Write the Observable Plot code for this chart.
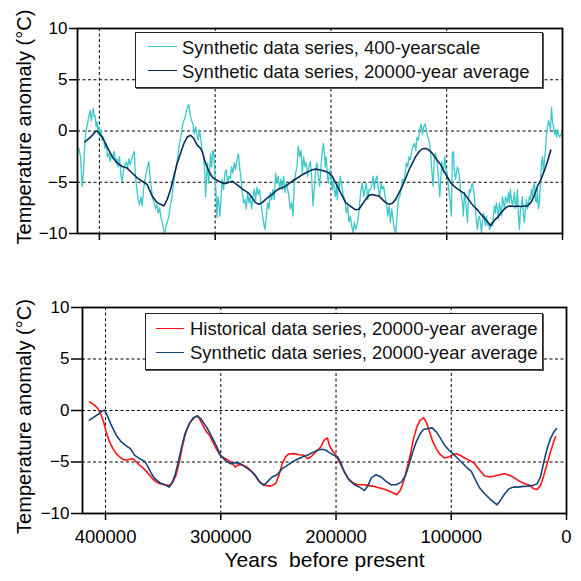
<!DOCTYPE html>
<html>
<head>
<meta charset="utf-8">
<script src="https://cdn.jsdelivr.net/npm/d3@7"></script>
<script src="https://cdn.jsdelivr.net/npm/@observablehq/plot@0.6"></script>
<style>
  html, body { margin: 0; padding: 0; background: white; }
  #wrap { position: relative; width: 581px; height: 581px; font-family: "Liberation Sans", Arial, Helvetica, sans-serif; }
  #wrap svg text { white-space: pre; }
  .legend { position: absolute; background: white; border: 1px solid #222; box-shadow: 1px 1px 0 #555; box-sizing: border-box; }
  .lg-line { position: absolute; height: 0; }
  .lg-text { position: absolute; font-size: 18.5px; line-height: 18.5px; white-space: nowrap; color: #111; }
</style>
</head>
<body>
<div id="wrap"></div>
<script>
// ---------- DATA ----------
// Top panel: synthetic series at 400-year scale [years before present, °C]
const synth400 = [
[418900,-1.9],[417800,-1.7],[416300,-2.5],[414900,-5.4],[413700,-4.1],[412600,-1.2],[411400,0.1],[410300,0.7],
[409100,1.4],[408000,2.0],[407100,1.0],[406200,1.7],[405400,2.2],[404500,1.4],[403600,1.5],[402800,0.4],
[401900,0.9],[401000,-0.3],[400200,0.4],[399300,-0.6],[398500,0.1],[397600,-0.9],[396400,-0.6],[395300,-1.7],
[394100,-1.2],[393000,-2.5],[391800,-2.2],[390700,-3.0],[389500,-2.3],[388400,-2.7],[387200,-2.0],[386100,-3.0],
[384900,-2.7],[383800,-3.5],[382600,-2.5],[381500,-4.3],[380300,-4.9],[379200,-3.8],[378000,-3.3],[376800,-3.0],
[375700,-3.6],[374500,-2.7],[373400,-3.3],[372200,-2.8],[371100,-2.3],[369900,-2.0],[368800,-4.4],[367600,-5.7],
[366500,-6.7],[365300,-7.2],[364200,-6.4],[363000,-7.3],[361900,-5.7],[360700,-4.9],[359600,-4.1],[358400,-3.5],
[357300,-3.0],[356100,-4.7],[355000,-5.7],[353800,-6.7],[352600,-7.0],[351500,-7.6],[350300,-7.2],[349200,-8.0],
[348000,-7.5],[346900,-8.4],[345700,-8.9],[344600,-9.6],[343400,-9.9],[342300,-9.2],[341100,-8.8],[340000,-8.3],
[338800,-7.3],[337700,-6.7],[336500,-5.7],[335400,-4.7],[334200,-3.8],[333100,-3.1],[331900,-2.2],[330800,-1.2],
[329600,-0.6],[328400,0.4],[327300,1.0],[326100,1.2],[325000,2.0],[323800,2.3],[322700,2.6],[321500,1.5],
[320400,1.0],[319200,0.7],[318100,-0.3],[316900,0.4],[315800,-0.3],[314600,-0.9],[313500,0.1],[312600,-0.6],
[311200,-1.9],[310000,-2.5],[309100,-3.8],[308300,-6.4],[307400,-4.4],[306600,-3.1],[305700,-5.1],[304800,-4.1],
[304000,-2.2],[303100,-3.5],[301900,-1.9],[301100,-2.2],[300200,-4.4],[299400,-5.7],[298500,-8.4],[297600,-6.4],
[296800,-7.0],[295900,-8.3],[295000,-6.7],[293900,-4.7],[292700,-5.7],[291600,-4.1],[290400,-3.8],[289300,-5.1],
[288100,-4.4],[287000,-4.7],[285800,-3.5],[284700,-4.1],[283500,-3.1],[282400,-3.8],[281200,-2.8],[280000,-2.2],
[278900,-3.5],[277700,-4.7],[276600,-6.0],[275400,-7.0],[274300,-6.7],[273100,-7.6],[272000,-6.0],[270800,-7.0],
[269700,-6.4],[268500,-7.6],[267400,-6.4],[266200,-5.7],[265100,-6.7],[263900,-5.5],[262800,-6.2],[261600,-5.7],
[260500,-7.0],[259300,-8.0],[258200,-8.9],[257000,-9.6],[255800,-8.3],[254700,-7.0],[253500,-7.6],[252400,-6.0],
[251200,-6.7],[250100,-5.7],[248900,-6.7],[247800,-4.1],[246600,-5.1],[245500,-4.4],[244300,-5.7],[243200,-4.7],
[242000,-5.7],[240900,-4.4],[239700,-6.0],[238600,-5.1],[237400,-5.7],[236300,-6.4],[235100,-7.6],[234000,-7.0],
[232800,-8.3],[231600,-5.1],[230500,-4.1],[229300,-3.5],[228200,-1.5],[227000,-2.5],[225900,-1.9],[224700,-4.1],
[223600,-2.5],[222400,-3.5],[221300,-3.1],[220100,-4.4],[219000,-3.5],[217800,-3.0],[216700,-4.4],[215500,-7.3],
[214400,-5.7],[213200,-3.8],[212100,-3.1],[210900,-4.4],[209800,-5.4],[208600,-3.5],[207400,-1.9],[206600,-1.2],
[205700,-2.2],[204900,-3.5],[204000,-2.5],[203100,-4.4],[202300,-5.1],[201400,-4.1],[200500,-3.8],[199700,-5.1],
[198800,-5.7],[197900,-4.7],[197100,-5.7],[196200,-6.4],[195300,-5.4],[194500,-6.7],[193600,-5.1],[192800,-5.7],
[191900,-4.4],[191000,-5.1],[190200,-5.7],[189000,-6.4],[187900,-6.7],[186700,-8.0],[185600,-7.3],[184400,-8.9],
[183200,-8.3],[182100,-9.2],[180900,-9.9],[179800,-8.9],[178600,-9.6],[177500,-9.2],[176300,-8.3],[175200,-7.0],
[174000,-5.7],[172900,-5.1],[171700,-6.4],[170600,-5.7],[169400,-5.1],[168300,-6.7],[167100,-5.7],[166000,-5.7],
[164800,-5.4],[163700,-4.4],[162500,-5.7],[161400,-4.7],[160200,-4.4],[159000,-5.7],[157900,-6.4],[156700,-5.1],
[155600,-5.7],[154400,-5.4],[153300,-6.4],[152100,-7.0],[151000,-8.3],[149800,-7.3],[148700,-8.9],[147500,-7.6],
[146400,-8.6],[145200,-9.6],[144100,-9.9],[142900,-8.3],[141800,-6.7],[140600,-6.4],[139500,-5.7],[138300,-4.7],
[137100,-5.1],[136000,-4.1],[134800,-3.1],[133700,-3.5],[132500,-2.5],[131400,-2.8],[130200,-1.9],[129100,-1.5],
[127900,-1.2],[126800,-1.9],[125600,-0.6],[124500,-0.9],[123300,0.1],[122200,0.7],[121000,-0.3],[119900,0.4],
[118700,0.7],[117600,0.1],[116400,-0.6],[115300,-0.9],[114100,-1.9],[112900,-3.8],[111800,-5.4],[110600,-2.5],
[109500,-2.2],[108300,-3.1],[107200,-4.4],[106000,-6.4],[104300,-3.0],[102900,-4.1],[101700,-2.5],[100600,-3.8],
[99400,-4.4],[98300,-5.7],[97100,-6.7],[96000,-8.3],[95100,-2.2],[94200,-2.0],[93400,-3.8],[92500,-4.7],
[91600,-4.1],[90800,-3.5],[89900,-3.8],[89000,-4.4],[88200,-5.7],[87300,-6.4],[86400,-7.0],[85600,-8.3],
[84700,-6.0],[83900,-6.7],[83000,-7.6],[82100,-8.9],[81300,-6.7],[80400,-5.7],[79500,-6.0],[78700,-5.4],
[77800,-5.1],[76900,-5.7],[76100,-6.4],[75200,-7.6],[74300,-8.9],[73500,-9.6],[72600,-8.6],[71800,-8.3],
[70900,-8.9],[70000,-9.9],[69200,-8.9],[68300,-8.0],[67400,-8.6],[66600,-9.2],[65700,-8.3],[64800,-9.2],
[64000,-8.9],[63100,-9.6],[62200,-9.4],[61400,-8.9],[60500,-9.2],[59700,-8.3],[58800,-7.3],[57900,-8.0],
[57100,-7.0],[56200,-7.6],[55300,-8.6],[54500,-7.0],[53600,-7.6],[52700,-8.3],[51900,-6.4],[51000,-7.0],
[50100,-7.6],[49300,-6.4],[48400,-6.7],[47600,-7.0],[46700,-6.0],[45800,-7.0],[45000,-5.7],[44100,-6.7],
[43200,-7.3],[42400,-6.7],[41500,-6.0],[40600,-7.6],[39800,-7.0],[38900,-5.7],[38000,-8.3],[37200,-9.6],
[36300,-7.6],[35500,-7.3],[34600,-6.4],[33700,-8.3],[32900,-8.9],[32000,-7.6],[31100,-6.7],[30300,-7.6],
[29400,-7.0],[28500,-6.4],[27700,-6.7],[26800,-5.7],[25900,-6.4],[25100,-5.4],[24200,-5.1],[23400,-6.7],
[22500,-7.0],[21600,-5.7],[20800,-7.6],[19900,-7.0],[19000,-5.1],[18200,-3.1],[17300,-2.5],[16400,-4.1],
[15600,-2.8],[14700,-1.9],[13800,-0.3],[13000,0.4],[12100,1.0],[11300,0.7],[10400,0.1],[9500,2.3],
[8700,1.0],[7800,0.4],[6900,-0.3],[6100,0.1],[5200,-0.6],[4300,0.1],[3500,-0.3],[2600,-0.6],
[1500,-0.4],[300,-0.1]
];

// Top panel: synthetic series, 20000-year average
const synthAvgTop = [
[412600,-1.06],[409100,-0.74],[406200,-0.42],[403400,-0.06],[401900,0.0],[399900,-0.26],[397600,-0.58],[393300,-1.54],
[388900,-2.5],[384600,-3.14],[380300,-3.46],[376000,-3.62],[371700,-4.1],[367300,-4.58],[363000,-4.9],[358700,-5.22],
[354400,-6.35],[350100,-6.99],[347200,-7.15],[344300,-7.31],[341400,-6.67],[338500,-5.71],[335650,-4.42],[332800,-3.14],
[329900,-2.18],[327000,-1.22],[324100,-0.58],[321200,-0.42],[318400,-0.74],[315500,-1.38],[312600,-1.7],[311200,-2.0],
[308300,-3.14],[305400,-3.94],[302500,-4.49],[299600,-4.74],[296800,-4.9],[293900,-5.06],[291000,-5.13],[288100,-5.0],
[285200,-4.9],[282400,-5.13],[279500,-5.38],[276600,-5.64],[273700,-5.87],[270800,-6.09],[268000,-6.51],[265100,-6.99],
[262200,-7.15],[259300,-6.99],[256400,-6.67],[253500,-6.41],[250700,-6.19],[247800,-5.87],[244900,-5.64],[242000,-5.54],
[239100,-5.38],[236300,-5.13],[233400,-4.9],[230500,-4.68],[227600,-4.49],[224700,-4.26],[221900,-4.1],[219000,-3.94],
[216100,-3.78],[213200,-3.72],[210300,-3.78],[207400,-3.85],[204600,-3.94],[201700,-4.1],[198800,-4.42],[195900,-5.06],
[193000,-5.71],[190200,-6.35],[187300,-6.99],[184400,-7.24],[181500,-7.47],[178600,-7.69],[175800,-7.63],[172900,-7.15],
[170000,-6.67],[167100,-6.28],[164200,-6.19],[161350,-6.28],[158500,-6.35],[155600,-6.67],[152700,-6.99],[149800,-7.15],
[146900,-7.05],[144100,-6.67],[141200,-6.03],[138300,-5.38],[135400,-4.58],[132500,-3.78],[129700,-3.14],[126800,-2.5],
[123900,-2.02],[121000,-1.73],[118100,-1.7],[115300,-1.86],[112400,-2.18],[109500,-2.66],[105200,-3.3],[102300,-3.94],
[99400,-4.49],[96500,-5.06],[93600,-5.38],[90800,-5.64],[87900,-5.87],[85000,-6.09],[82100,-6.51],[79200,-6.99],
[76400,-7.37],[73500,-7.69],[70600,-8.11],[67700,-8.43],[64800,-8.85],[62000,-9.25],[59100,-8.75],[56200,-8.43],
[53300,-8.01],[50400,-7.63],[47600,-7.37],[44700,-7.31],[41800,-7.37],[38900,-7.31],[36000,-7.37],[33100,-7.31],
[30300,-7.31],[27400,-6.99],[24500,-6.35],[21600,-5.38],[18700,-4.74],[15900,-3.94],[13000,-2.98],[10100,-1.86]
];

// Bottom panel: historical series, 20000-year average
const histAvg = [
[413960,0.84],[409600,0.52],[406690,0.19],[403780,-0.45],[401745,-1.1],[399420,-2.08],[396510,-3.05],[393600,-3.7],
[390690,-4.19],[387780,-4.51],[384870,-4.74],[381960,-4.84],[379050,-4.74],[376140,-4.68],[373230,-5.0],[370330,-5.32],
[367420,-5.58],[364510,-5.91],[361600,-6.3],[358690,-6.69],[355780,-6.95],[352870,-7.11],[348500,-7.21],[344700,-7.27],
[341820,-7.01],[338900,-6.3],[336000,-5.0],[333090,-3.38],[330180,-2.08],[327270,-1.27],[323780,-0.78],[320870,-0.52],
[318540,-0.78],[315630,-1.43],[312720,-2.01],[309810,-2.4],[306910,-3.05],[304000,-3.7],[300510,-4.35],[297000,-4.61],
[293240,-4.84],[290330,-5.16],[287420,-5.49],[284510,-5.26],[280730,-5.32],[277240,-5.49],[274330,-5.81],[271420,-6.14],
[268510,-6.62],[265600,-7.01],[261240,-7.27],[256880,-7.34],[252510,-7.11],[249600,-6.3],[246690,-5.16],[243780,-4.51],
[240880,-4.22],[236510,-4.19],[232150,-4.29],[227790,-4.35],[224880,-4.68],[221970,-4.51],[219060,-4.19],[216150,-3.86],
[213240,-3.54],[210330,-2.89],[207420,-2.66],[205800,-3.38],[202900,-3.96],[200000,-4.35],[197100,-5.0],[194200,-5.65],
[189850,-6.56],[185500,-7.01],[181160,-7.21],[176810,-7.21],[172460,-7.27],[168110,-7.34],[163760,-7.47],[159410,-7.6],
[155060,-7.76],[150720,-7.99],[147240,-8.18],[144340,-7.76],[141440,-6.95],[138540,-5.65],[135640,-4.35],[132740,-2.73],
[129850,-1.59],[126950,-0.94],[124050,-0.71],[121730,-1.1],[118830,-2.08],[115930,-3.05],[113030,-3.7],[109550,-4.29],
[105780,-4.61],[102000,-4.51],[98930,-4.29],[95630,-4.19],[92150,-4.35],[88380,-4.61],[84040,-4.84],[79690,-5.16],
[75340,-5.81],[70990,-6.36],[66640,-6.46],[62300,-6.36],[57950,-6.23],[53600,-6.14],[49250,-6.3],[44900,-6.56],
[40550,-6.88],[36210,-7.11],[31860,-7.27],[28380,-7.6],[25490,-7.66],[22590,-7.27],[19690,-6.3],[16790,-5.16],
[13890,-4.03],[11580,-3.21],[9530,-2.56]
];

// Bottom panel: synthetic series, 20000-year average
const synthAvgBottom = [
[413960,-0.94],[411050,-0.71],[406690,-0.39],[402900,-0.06],[400870,0.03],[397960,-0.62],[395050,-1.43],[390690,-2.4],
[386330,-3.05],[381960,-3.44],[378470,-3.7],[374690,-4.35],[370330,-4.68],[365960,-4.94],[363050,-5.49],[360140,-6.14],
[357240,-6.62],[352870,-7.01],[348500,-7.21],[344730,-7.44],[342690,-7.11],[339780,-6.3],[336870,-5.0],[333960,-3.54],
[331050,-2.24],[327270,-1.27],[323780,-0.71],[320290,-0.52],[317380,-0.78],[314470,-1.27],[311560,-1.75],[307780,-2.56],
[304000,-3.38],[300510,-4.29],[296140,-4.84],[291780,-5.16],[287420,-5.06],[283050,-5.16],[278690,-5.49],[274330,-5.81],
[269960,-6.3],[265600,-7.01],[262690,-7.27],[259200,-6.88],[255420,-6.46],[251050,-6.23],[246690,-5.65],[242330,-5.32],
[237970,-5.0],[233600,-4.74],[229240,-4.51],[224880,-4.35],[220520,-4.09],[216150,-3.86],[211790,-3.77],[208700,-3.86],
[205800,-4.09],[202900,-4.29],[198550,-4.51],[195650,-5.16],[192750,-5.97],[188400,-6.79],[184050,-7.21],[179710,-7.44],
[175360,-7.76],[172460,-7.34],[169560,-6.56],[165210,-6.23],[160860,-6.46],[156520,-6.88],[152170,-7.21],[147820,-7.21],
[143470,-6.95],[139700,-6.3],[136800,-5.32],[133910,-4.19],[130430,-3.05],[126950,-2.24],[124050,-1.85],[120280,-1.75],
[116510,-1.69],[113030,-2.08],[109550,-2.66],[105780,-3.38],[102000,-3.86],[98530,-4.19],[95630,-4.51],[91280,-5.0],
[86930,-5.49],[82580,-5.91],[78820,-6.79],[75340,-7.53],[70990,-8.08],[66640,-8.57],[63160,-8.9],[60270,-9.16],
[57370,-8.73],[53600,-8.08],[49830,-7.6],[46350,-7.44],[42000,-7.44],[37660,-7.37],[33310,-7.34],[28960,-7.27],
[25490,-7.11],[22590,-6.46],[19690,-5.0],[16790,-3.7],[13890,-2.73],[10990,-2.08],[8670,-1.75]
];

const xTicks = [400000, 300000, 200000, 100000, 0];
const xGrid = [400000, 300000, 200000, 100000];
const yTicks = [-10, -5, 0, 5, 10];
const yGrid = [-5, 0, 5];
const yLabel = "Temperature anomaly (°C)";
const xLabel = "Years  before present";

const topNames = ["Synthetic data series, 400-yearscale", "Synthetic data series, 20000-year average"];
const topColors = ["#3cc8c8", "#0c2c5c"];
const botNames = ["Historical data series, 20000-year average", "Synthetic data series, 20000-year average"];
const botColors = ["#ff1414", "#17467a"];

// ---------- CHARTS ----------
const toRows = arr => arr.map(([year, temp]) => ({year, temp}));
const font = "'Liberation Sans', Arial, Helvetica, sans-serif";
const dash = "3,2.5";

const wrap = document.getElementById("wrap");

const topPlot = Plot.plot({
  width: 581, height: 245,
  marginTop: 28, marginBottom: 12, marginLeft: 77, marginRight: 19,
  x: {domain: [418900, 0]},
  y: {domain: [-10, 10]},
  style: {fontFamily: font, color: "black", background: "white", overflow: "visible"},
  marks: [
    Plot.gridY(yGrid, {stroke: "black", strokeOpacity: 1, strokeDasharray: dash, strokeWidth: 1}),
    Plot.gridX(xGrid, {stroke: "black", strokeOpacity: 1, strokeDasharray: dash, strokeWidth: 1}),
    Plot.line(toRows(synth400), {x: "year", y: "temp", stroke: topColors[0], strokeWidth: 1.3}),
    Plot.line(toRows(synthAvgTop), {x: "year", y: "temp", stroke: topColors[1], strokeWidth: 1.6}),
    Plot.frame({stroke: "black", strokeWidth: 1.8}),
    Plot.axisY(yTicks, {tickSize: 8, tickPadding: 2, strokeWidth: 1.5, tickFormat: d3.format("d"), fontSize: 17, label: null}),
    Plot.axisX(xTicks, {tickSize: 7, strokeWidth: 1.5, tickFormat: () => "", label: null}),
    Plot.text([yLabel], {text: d => d, frameAnchor: "left", textAnchor: "middle", dx: -53, dy: -4, rotate: -90, fontSize: 20})
  ]
});
topPlot.style.position = "absolute";
topPlot.style.left = "0px";
topPlot.style.top = "0px";
wrap.appendChild(topPlot);

const botPlot = Plot.plot({
  width: 581, height: 336,
  marginTop: 62, marginBottom: 68, marginLeft: 82, marginRight: 15,
  x: {domain: [420000, 0]},
  y: {domain: [-10, 10]},
  style: {fontFamily: font, color: "black", background: "white", overflow: "visible"},
  marks: [
    Plot.gridY(yGrid, {stroke: "black", strokeOpacity: 1, strokeDasharray: dash, strokeWidth: 1}),
    Plot.gridX(xGrid, {stroke: "black", strokeOpacity: 1, strokeDasharray: dash, strokeWidth: 1}),
    Plot.line(toRows(histAvg), {x: "year", y: "temp", stroke: botColors[0], strokeWidth: 1.6}),
    Plot.line(toRows(synthAvgBottom), {x: "year", y: "temp", stroke: botColors[1], strokeWidth: 1.6}),
    Plot.frame({stroke: "black", strokeWidth: 1.8}),
    Plot.axisY(yTicks, {tickSize: 11, tickPadding: 2, strokeWidth: 1.5, tickFormat: d3.format("d"), fontSize: 17, label: null}),
    Plot.axisX(xTicks, {tickSize: 7, tickPadding: 9, strokeWidth: 1.5, tickFormat: d3.format("d"), fontSize: 18.5, label: null}),
    Plot.text([yLabel], {text: d => d, frameAnchor: "left", textAnchor: "middle", dx: -58, dy: 6, rotate: -90, fontSize: 20}),
    Plot.text([xLabel], {text: d => d, frameAnchor: "bottom", textAnchor: "middle", dy: 53, fontSize: 21})
  ]
});
botPlot.style.position = "absolute";
botPlot.style.left = "0px";
botPlot.style.top = "245px";
wrap.appendChild(botPlot);

// ---------- LEGENDS ----------
function legend(box, names, colors, lineX0, lineX1, textX, lineYs, baseYs) {
  const b = document.createElement("div");
  b.className = "legend";
  Object.assign(b.style, {left: box[0] + "px", top: box[1] + "px", width: box[2] + "px", height: box[3] + "px"});
  wrap.appendChild(b);
  names.forEach((name, i) => {
    const ln = document.createElement("div");
    ln.className = "lg-line";
    Object.assign(ln.style, {left: lineX0 + "px", top: (lineYs[i] - 0.8) + "px", width: (lineX1 - lineX0) + "px", borderTop: "1.6px solid " + colors[i]});
    wrap.appendChild(ln);
    const tx = document.createElement("div");
    tx.className = "lg-text";
    tx.textContent = name;
    Object.assign(tx.style, {left: textX + "px", top: (baseYs[i] - 15.7) + "px"});
    wrap.appendChild(tx);
  });
}
legend([135, 32, 408, 56], topNames, topColors, 148, 177, 182, [47, 71], [55, 78.5]);
legend([145, 313, 398, 57], botNames, botColors, 156, 184, 190, [329, 353], [336, 360]);
</script>
</body>
</html>
